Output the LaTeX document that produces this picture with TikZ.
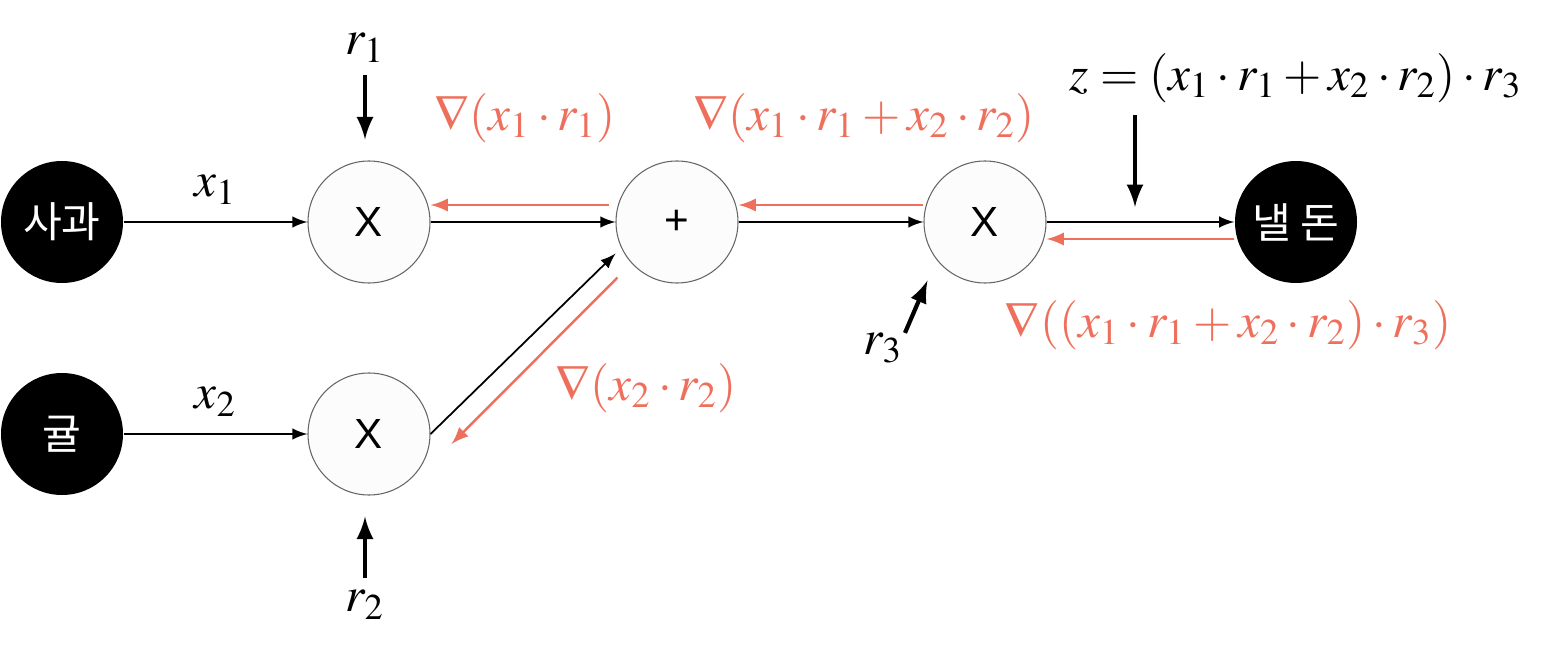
\documentclass[tikz,border=0pt]{standalone}
\usepackage{mathptmx}
\usepackage{fontspec}
\newfontfamily\krfont{Noto Sans CJK KR}
\newfontfamily\opfont{Liberation Sans}
\definecolor{gradred}{RGB}{238,112,92}
\newcommand{\labsize}{\fontsize{14}{17}\selectfont}
\tikzset{
  inode/.style={circle, fill=black, minimum size=1.22cm, inner sep=0pt, text=white, font=\krfont\large},
  opnode/.style={circle, draw=black!60, line width=0.3pt, fill=black!1, minimum size=1.22cm, inner sep=0pt, font=\opfont\large},
  fwd/.style={-latex, line width=0.5pt},
  bwd/.style={-latex, line width=0.7pt, gradred},
  push/.style={-latex, line width=1.2pt},
  glabel/.style={text=gradred, font=\labsize},
  vlabel/.style={font=\labsize},
}

\begin{document}
\begin{tikzpicture}
  \useasboundingbox (0,0) rectangle (15.44,6.52);
  % nodes
  \node[inode] (apple) at (0.62,4.30) {사과};
  \node[inode] (orange) at (0.62,2.18) {귤};
  \node[opnode] (mulA) at (3.69,4.30) {X};
  \node[opnode] (mulB) at (3.69,2.18) {X};
  \node[opnode] (add) at (6.77,4.30) {+};
  \node[opnode] (mulC) at (9.85,4.30) {X};
  \node[inode] (pay) at (12.96,4.30) {낼 돈};
  % forward pass
  \draw[fwd] (apple) -- node[vlabel, above=0.5mm] (x1lab) {$x_1$} (mulA);
  \draw[fwd] (orange) -- node[vlabel, above=0.5mm] (x2lab) {$x_2$} (mulB);
  \draw[fwd] (mulA) -- (add);
  \draw[fwd, shorten >=0.8mm] (mulB.east) -- (add.205);
  \draw[fwd] (add) -- (mulC);
  \draw[fwd] (mulC) -- (pay);
  % backward pass
  \draw[bwd, shorten <=0.6mm] ([yshift=1.7mm]add.west) -- ([yshift=1.7mm]mulA.east);
  \draw[bwd] ([yshift=1.7mm]mulC.west) -- ([yshift=1.7mm]add.east);
  \draw[bwd] ([yshift=-1.7mm]pay.west) -- ([yshift=-1.7mm]mulC.east);
  \draw[bwd] ([shift={(-1.6mm,-1.2mm)}]add.225) -- ([shift={(2.1mm,-1mm)}]mulB.east);
  \node[glabel] (gA) at (5.25,5.34) {$\nabla(x_1\cdot r_1)$};
  \node[glabel] (gB) at (6.46,2.64) {$\nabla(x_2\cdot r_2)$};
  \node[glabel] (gC) at (8.64,5.34) {$\nabla(x_1\cdot r_1+x_2\cdot r_2)$};
  \node[glabel] (gD) at (12.28,3.27) {$\nabla((x_1\cdot r_1+x_2\cdot r_2)\cdot r_3)$};
  % prices and result
  \node[vlabel] (r1lab) at (3.65,6.04) {$r_1$};
  \draw[push, shorten >=2.1mm] (r1lab) -- (r1lab |- mulA.north);
  \node[vlabel] (r2lab) at (3.65,0.47) {$r_2$};
  \draw[push, shorten >=2.1mm] (r2lab) -- (r2lab |- mulB.south);
  \node[vlabel] (r3lab) at (8.83,3.04) {$r_3$};
  \draw[push] ([shift={(-1mm,-1.2mm)}]r3lab.north east) -- ([shift={(-1.4mm,-1.5mm)}]mulC.south west);
  \node[vlabel] (zlab) at (12.96,5.74) {$z=(x_1\cdot r_1+x_2\cdot r_2)\cdot r_3$};
  \coordinate (zend) at (11.35,4.45);
  \draw[push] (zlab.south -| zend) -- (zend);
\end{tikzpicture}
\end{document}
